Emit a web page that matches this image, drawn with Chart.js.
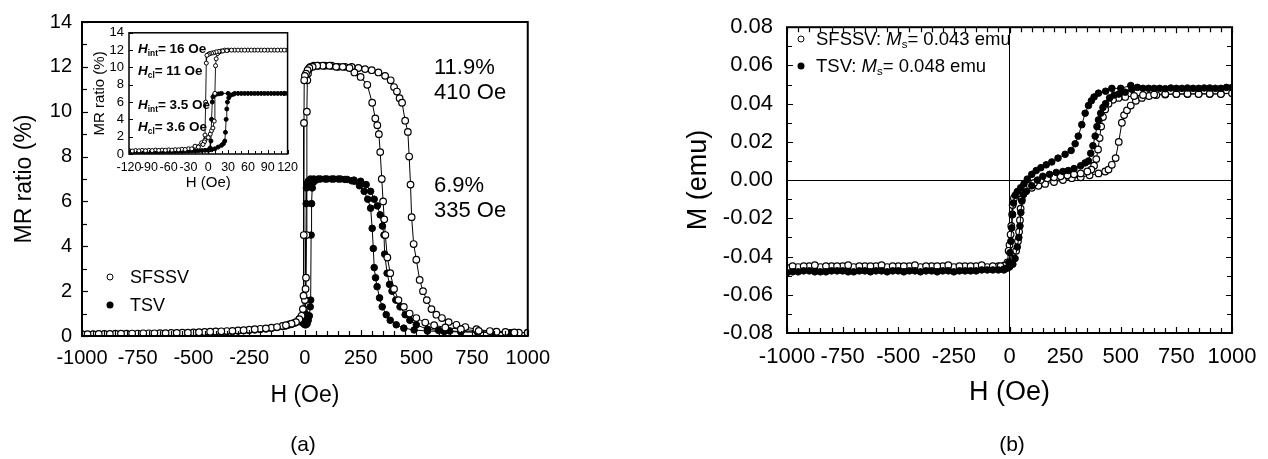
<!DOCTYPE html>
<html><head><meta charset="utf-8">
<script src="https://cdn.jsdelivr.net/npm/chart.js@4/dist/chart.umd.min.js"></script>
<style>
html,body{margin:0;padding:0;background:#fff;}
#wrap{position:relative;width:1268px;height:459px;overflow:hidden;font-family:"Liberation Sans",Arial,sans-serif;color:#000;background:#fff;}
canvas{position:absolute;}
.t{position:absolute;white-space:nowrap;line-height:1;transform:translateY(-50%);}
.c{transform:translate(-50%,-50%);}
.mk{position:absolute;width:7px;height:7px;border-radius:50%;box-sizing:border-box;transform:translate(-50%,-50%);}
.mo{border:1.3px solid #000;background:#fff;}
.mf{background:#000;}
sub{font-size:62%;vertical-align:baseline;position:relative;top:0.3em;}
.ins{font-weight:bold;font-size:13.5px;}
</style></head><body>
<div id="wrap">
<canvas id="ca" width="560" height="459" style="left:0px;top:0px"></canvas>
<canvas id="ci" width="216" height="172" style="left:88px;top:20px"></canvas>
<canvas id="cb" width="628" height="459" style="left:640px;top:0px"></canvas>

<div class="t ins" style="left:138px;top:49px"><i>H</i><sub>int</sub>= 16 Oe</div>
<div class="t ins" style="left:138px;top:71px"><i>H</i><sub>cl</sub>= 11 Oe</div>
<div class="t ins" style="left:138px;top:105px"><i>H</i><sub>int</sub>= 3.5 Oe</div>
<div class="t ins" style="left:138px;top:127px"><i>H</i><sub>cl</sub>= 3.6 Oe</div>

<div class="t" style="left:434px;top:67px;font-size:22px">11.9%</div>
<div class="t" style="left:434px;top:92px;font-size:22px">410 Oe</div>
<div class="t" style="left:434px;top:185px;font-size:22px">6.9%</div>
<div class="t" style="left:434px;top:210px;font-size:22px">335 Oe</div>

<div class="mk mo" style="left:110px;top:277px"></div>
<div class="t" style="left:130px;top:277px;font-size:18px">SFSSV</div>
<div class="mk mf" style="left:110px;top:305px"></div>
<div class="t" style="left:130px;top:305px;font-size:18px">TSV</div>

<div class="mk mo" style="left:801px;top:39px"></div>
<div class="t" style="left:816px;top:39px;font-size:18.5px">SFSSV: <i>M</i><sub>s</sub>= 0.043 emu</div>
<div class="mk mf" style="left:801px;top:66px"></div>
<div class="t" style="left:816px;top:66px;font-size:18.5px">TSV: <i>M</i><sub>s</sub>= 0.048 emu</div>

<div class="t c" style="left:303px;top:443px;font-size:21px">(a)</div>
<div class="t c" style="left:1012px;top:443px;font-size:21px">(b)</div>
</div>

<script>
// ---------- (a) main: MR ratio (%) vs H (Oe) ----------
const aH_sfUp = [-1000,-950,-900,-850,-800,-750,-700,-650,-600,-550,-500,-450,-400,-350,-300,-250,-200,-150,-100,-70,-45,-25,-12,-5,0,3,5,7,9,11,14,18,25,40,60,90,120,150,180,210,240,270,300,330,360,385,400,413,425,436,450,462,468,474,479,488,500,515,530,547,568,590,615,645,680,720,770,830,900,960,1000];
const aMR_sfUp = [0.08,0.08,0.09,0.1,0.1,0.11,0.12,0.13,0.14,0.15,0.16,0.18,0.2,0.22,0.25,0.28,0.32,0.37,0.45,0.52,0.6,0.75,0.9,1.2,1.6,2.1,2.6,4.5,10.0,11.4,11.7,11.9,12.0,12.05,12.05,12.05,12.05,12.0,12.0,12.0,11.95,11.9,11.85,11.75,11.6,11.4,11.1,10.9,10.6,10.4,9.6,9.1,8.0,6.75,5.3,4.1,3.4,2.5,2.0,1.6,1.2,0.95,0.8,0.62,0.5,0.4,0.3,0.22,0.18,0.15,0.15];
const aH_sfDn = [-975,-925,-875,-825,-775,-725,-675,-625,-575,-525,-475,-425,-375,-325,-275,-225,-175,-125,-85,-60,-40,-25,-15,-9,-6,-5,-4,-3,0,5,12,20,35,55,80,110,140,170,200,222,250,280,302,316,325,332,338,345,351,356,361,370,383,400,420,444,470,500,540,580,630,700,780,860,940,1000];
const aMR_sfDn = [0.08,0.09,0.09,0.1,0.11,0.12,0.12,0.13,0.14,0.15,0.17,0.19,0.21,0.23,0.26,0.3,0.34,0.4,0.48,0.55,0.62,0.75,0.9,1.2,1.8,4.5,9.5,11.4,11.6,11.7,11.85,11.95,12.0,12.05,12.05,12.05,12.0,12.0,11.95,11.75,11.55,11.2,10.4,9.7,9.4,9.0,8.2,7.0,6.0,5.2,4.5,3.5,2.8,2.1,1.6,1.3,1.0,0.8,0.6,0.48,0.38,0.3,0.23,0.19,0.16,0.15];
const aH_tsUp = [-1000,-950,-900,-850,-800,-750,-700,-650,-600,-550,-500,-450,-400,-350,-300,-250,-200,-150,-100,-70,-45,-25,-12,-5,0,5,10,15,20,24,26,28,30,33,38,50,70,100,130,160,190,220,250,275,295,311,325,338,348,355,358,369,380,391,408,427,450,471,500,550,600,650,700,775,850,925,1000];
const aMR_tsUp = [0.05,0.05,0.06,0.06,0.07,0.08,0.09,0.1,0.11,0.12,0.13,0.15,0.17,0.19,0.22,0.25,0.29,0.34,0.42,0.5,0.58,0.65,0.6,0.55,0.5,0.5,0.55,0.7,0.9,1.3,1.6,4.5,5.9,6.6,6.85,6.95,7.0,7.0,7.0,7.0,6.98,6.95,6.9,6.75,6.45,6.1,5.8,5.4,4.9,4.5,3.65,2.8,2.3,2.0,1.6,1.3,0.95,0.7,0.5,0.3,0.25,0.22,0.2,0.18,0.16,0.15,0.15];
const aH_tsDn = [-975,-925,-875,-825,-775,-725,-675,-625,-575,-525,-475,-425,-375,-325,-275,-225,-175,-125,-85,-60,-40,-20,-10,-2,2,4,5,6,7,10,15,25,40,60,90,120,150,180,210,222,245,266,282,295,302,307,311,317,324,335,347,365,383,410,444,490,550,625,700,775,850,925];
const aMR_tsDn = [0.05,0.05,0.06,0.07,0.07,0.08,0.09,0.1,0.11,0.12,0.14,0.16,0.18,0.2,0.23,0.27,0.31,0.38,0.45,0.52,0.6,0.68,0.7,0.75,1.0,1.6,4.5,5.9,6.6,6.8,6.9,7.0,7.0,7.0,7.0,7.0,7.0,6.98,6.92,6.9,6.7,6.45,6.1,5.7,4.8,3.9,3.05,2.6,2.2,1.7,1.3,0.95,0.7,0.5,0.35,0.27,0.22,0.2,0.18,0.17,0.16,0.15];

// ---------- (a) inset ----------
const iH_sfUp = [-120,-110,-100,-90,-80,-70,-60,-50,-40,-30,-20,-10,-5,0,3,5,7,9,10,11,12,14,17,20,25,30,40,50,60,70,80,90,100,110,120];
const iMR_sfUp = [0.4,0.4,0.42,0.42,0.45,0.45,0.48,0.5,0.55,0.6,0.9,1.3,1.6,1.9,2.3,2.7,3.0,3.8,7.0,10.2,11.0,11.6,11.8,11.9,12.0,12.0,12.0,12.0,12.0,12.0,12.0,12.0,12.0,12.0,12.0];
const iH_sfDn = [-115,-105,-95,-85,-75,-65,-55,-45,-35,-25,-15,-8,-6,-5,-4,-3,-2,0,2,5,8,12,16,22,28,35,45,55,65,75,85,95,105,115];
const iMR_sfDn = [0.35,0.37,0.38,0.4,0.42,0.43,0.45,0.48,0.52,0.6,0.8,1.1,1.4,2.2,6.0,10.5,11.4,11.5,11.6,11.65,11.7,11.8,11.85,11.9,11.95,12.0,12.0,12.0,12.0,12.0,12.0,12.0,12.0,12.0];
const iH_tsUp = [-120,-110,-100,-90,-80,-70,-60,-50,-40,-30,-20,-10,0,5,10,15,20,23,25,26,27,28,29,31,34,38,45,55,65,75,85,95,105,115,120];
const iMR_tsUp = [0.25,0.25,0.26,0.26,0.27,0.27,0.28,0.3,0.3,0.32,0.35,0.4,0.45,0.5,0.6,0.8,1.0,1.2,1.5,2.5,4.0,5.2,6.0,6.5,6.8,6.9,7.0,7.0,7.0,7.0,7.0,7.0,7.0,7.0,7.0];
const iH_tsDn = [-115,-105,-95,-85,-75,-65,-55,-45,-35,-25,-15,-5,0,2,3,4,5,6,7,9,12,16,20,30,40,50,60,70,80,90,100,110,115];
const iMR_tsDn = [0.25,0.26,0.26,0.27,0.27,0.28,0.28,0.3,0.32,0.34,0.38,0.42,0.45,0.5,0.7,1.5,4.0,6.0,6.6,6.8,6.9,6.95,7.0,7.0,7.0,7.0,7.0,7.0,7.0,7.0,7.0,7.0,7.0];

// ---------- (b): M (emu) vs H (Oe) ----------
const bH_sfUp = [-1000,-950,-900,-850,-800,-750,-700,-650,-600,-550,-500,-450,-400,-350,-300,-250,-200,-150,-100,-50,-25,-10,0,10,20,30,38,43,47,50,55,62,75,100,130,160,200,240,280,320,360,400,430,445,460,477,491,505,515,528,545,568,595,627,660,700,750,800,850,900,950,1000];
const bM_sfUp = [-0.046,-0.0455,-0.045,-0.0455,-0.045,-0.045,-0.0455,-0.045,-0.045,-0.0455,-0.045,-0.045,-0.0455,-0.045,-0.045,-0.0455,-0.045,-0.045,-0.0455,-0.045,-0.0448,-0.0445,-0.044,-0.043,-0.041,-0.037,-0.032,-0.027,-0.021,-0.015,-0.01,-0.007,-0.0055,-0.004,-0.003,-0.002,-0.001,0.0,0.001,0.0015,0.0025,0.0035,0.0045,0.0055,0.008,0.0115,0.02,0.03,0.034,0.0365,0.039,0.0415,0.043,0.044,0.0445,0.0448,0.045,0.045,0.0452,0.045,0.0452,0.0455];
const bH_sfDn = [-975,-925,-875,-825,-775,-725,-675,-625,-575,-525,-475,-425,-375,-325,-275,-225,-175,-125,-75,-40,-20,-9,-4,0,5,8,12,14,20,36,45,65,85,110,140,170,200,230,260,290,320,350,368,380,390,398,405,412,420,430,445,465,490,520,560,600,650,700,750,800,850,900,950];
const bM_sfDn = [-0.045,-0.045,-0.0445,-0.045,-0.045,-0.0445,-0.045,-0.045,-0.0445,-0.045,-0.045,-0.0445,-0.045,-0.045,-0.0445,-0.045,-0.045,-0.0445,-0.045,-0.045,-0.0448,-0.043,-0.037,-0.034,-0.0285,-0.024,-0.018,-0.013,-0.0095,-0.007,-0.006,-0.0045,-0.003,-0.0015,0.0,0.001,0.0015,0.002,0.0025,0.003,0.0035,0.0045,0.0055,0.0075,0.011,0.016,0.022,0.028,0.033,0.037,0.04,0.042,0.043,0.0435,0.044,0.0445,0.0448,0.045,0.045,0.0452,0.045,0.0452,0.045];
const bH_tsUp = [-1000,-950,-900,-850,-800,-750,-700,-650,-600,-550,-500,-450,-400,-350,-300,-250,-200,-150,-100,-50,-25,-10,0,15,25,35,42,47,51,56,63,75,100,125,150,180,210,240,264,290,320,340,355,365,375,385,393,400,410,420,432,450,470,491,520,550,600,650,700,750,800,850,900,950,1000];
const bM_tsUp = [-0.0485,-0.048,-0.0475,-0.048,-0.0475,-0.0475,-0.048,-0.0475,-0.0475,-0.048,-0.0475,-0.0475,-0.048,-0.0475,-0.0475,-0.048,-0.0475,-0.0475,-0.047,-0.047,-0.0465,-0.046,-0.0455,-0.044,-0.041,-0.035,-0.03,-0.024,-0.017,-0.011,-0.0075,-0.006,-0.003,0.0,0.002,0.003,0.004,0.0045,0.005,0.006,0.0075,0.009,0.01,0.014,0.018,0.023,0.028,0.0315,0.035,0.038,0.04,0.043,0.0445,0.045,0.046,0.0475,0.048,0.048,0.0478,0.048,0.0482,0.048,0.0482,0.048,0.0485];
const bH_tsDn = [-975,-925,-875,-825,-775,-725,-675,-625,-575,-525,-475,-425,-375,-325,-275,-225,-175,-125,-75,-25,-10,-3,2,6,10,14,18,25,35,50,65,80,100,120,141,165,190,218,250,277,295,309,325,340,355,368,380,400,432,460,500,545,575,625,675,725,775,825,875,925,975];
const bM_tsDn = [-0.048,-0.0475,-0.048,-0.048,-0.0475,-0.048,-0.0475,-0.048,-0.0475,-0.0475,-0.048,-0.0475,-0.0475,-0.048,-0.0475,-0.0475,-0.0475,-0.047,-0.047,-0.047,-0.046,-0.043,-0.038,-0.032,-0.025,-0.018,-0.012,-0.008,-0.006,-0.004,-0.002,0.0005,0.003,0.005,0.0065,0.008,0.0095,0.0115,0.0135,0.0155,0.019,0.023,0.029,0.035,0.039,0.0415,0.0435,0.0455,0.0465,0.048,0.048,0.0495,0.0485,0.048,0.048,0.0482,0.048,0.048,0.0482,0.048,0.0485];

// ---------- helpers ----------
Chart.defaults.font.family = '"Liberation Sans", Arial, sans-serif';
Chart.defaults.color = '#000';

function loop(hUp, vUp, hDn, vDn) {
  const pts = hUp.map((h, i) => ({x: h, y: vUp[i]}));
  for (let i = hDn.length - 1; i >= 0; i--) pts.push({x: hDn[i], y: vDn[i]});
  return pts;
}
function ds(label, data, open, r, bw, lw, order) {
  return {label, data, showLine: true, borderColor: '#000', borderWidth: lw,
    pointRadius: r, pointBorderWidth: bw, pointBorderColor: '#000',
    pointBackgroundColor: open ? '#fff' : '#000', backgroundColor: open ? '#fff' : '#000',
    tension: 0, order};
}

const frameTicks = {
  id: 'frameTicks',
  afterDatasetsDraw(chart, args, o) {
    const {ctx, chartArea: a, scales} = chart;
    ctx.save();
    ctx.strokeStyle = '#000';
    ctx.lineWidth = o.tw;
    function draw(scale, spec) {
      const n = Math.round((scale.max - scale.min) / spec.minor);
      for (let i = 0; i <= n; i++) {
        const v = scale.min + i * spec.minor;
        const q = v / spec.major;
        const major = Math.abs(q - Math.round(q)) < 1e-6;
        const L = major ? o.len : o.mlen;
        const p = Math.round(scale.getPixelForValue(v)) + 0.5;
        ctx.beginPath();
        spec.sides.forEach(s => {
          if (s === 'bottom') { ctx.moveTo(p, a.bottom); ctx.lineTo(p, a.bottom - L); }
          if (s === 'top') { ctx.moveTo(p, a.top); ctx.lineTo(p, a.top + L); }
          if (s === 'left') { ctx.moveTo(a.left, p); ctx.lineTo(a.left + L, p); }
          if (s === 'right') { ctx.moveTo(a.right, p); ctx.lineTo(a.right - L, p); }
        });
        ctx.stroke();
      }
    }
    draw(scales.x, o.x);
    draw(scales.y, o.y);
    ctx.lineWidth = o.lw;
    ctx.strokeRect(a.left, a.top, a.right - a.left, a.bottom - a.top);
    ctx.restore();
  }
};

const hidden = {display: false, drawTicks: false};

// ---------- chart (a) ----------
new Chart(document.getElementById('ca'), {
  type: 'scatter',
  data: {datasets: [
    ds('SFSSV', loop(aH_sfUp, aMR_sfUp, aH_sfDn, aMR_sfDn), true, 3.3, 1.2, 1, 0),
    ds('TSV', loop(aH_tsUp, aMR_tsUp, aH_tsDn, aMR_tsDn), false, 3.3, 1, 1, 1)
  ]},
  options: {
    responsive: false, animation: false, events: [], devicePixelRatio: 1,
    layout: {padding: {left: 0, top: 19, right: 28, bottom: 43}},
    plugins: {legend: {display: false}, tooltip: {enabled: false},
      frameTicks: {lw: 2, tw: 1.2, len: 6, mlen: 5,
        x: {minor: 50, major: 250, sides: ['bottom']},
        y: {minor: 1, major: 2, sides: ['left']}}},
    scales: {
      x: {type: 'linear', min: -1000, max: 1000,
        ticks: {stepSize: 250, padding: 10, font: {size: 20}, color: '#000', maxRotation: 0, autoSkip: false, callback: v => String(v)},
        grid: hidden, border: {display: false},
        title: {display: true, text: 'H (Oe)', color: '#000', font: {size: 23}, padding: {top: 0, bottom: 7}},
        afterFit(s) { s.height = 80; }},
      y: {type: 'linear', min: 0, max: 14,
        ticks: {stepSize: 2, padding: 10, font: {size: 20}, color: '#000', autoSkip: false, callback: v => String(v)},
        grid: hidden, border: {display: false},
        title: {display: true, text: 'MR ratio (%)', color: '#000', font: {size: 23}, padding: {top: 11, bottom: 0}},
        afterFit(s) { s.width = 82; }}
    }
  },
  plugins: [frameTicks]
});

// ---------- inset ----------
new Chart(document.getElementById('ci'), {
  type: 'scatter',
  data: {datasets: [
    ds('SFSSV', loop(iH_sfUp, iMR_sfUp, iH_sfDn, iMR_sfDn), true, 2, 1, 0.9, 0),
    ds('TSV', loop(iH_tsUp, iMR_tsUp, iH_tsDn, iMR_tsDn), false, 2, 1, 0.9, 1)
  ]},
  options: {
    responsive: false, animation: false, events: [], devicePixelRatio: 1,
    layout: {padding: {left: 0, top: 9, right: 11, bottom: 0}},
    plugins: {legend: {display: false}, tooltip: {enabled: false},
      frameTicks: {lw: 1.5, tw: 1, len: 4, mlen: 3,
        x: {minor: 10, major: 30, sides: ['bottom']},
        y: {minor: 2, major: 2, sides: ['left']}}},
    scales: {
      x: {type: 'linear', min: -120, max: 120,
        ticks: {stepSize: 30, padding: 6, font: {size: 12.5}, color: '#000', maxRotation: 0, autoSkip: false, callback: v => String(v)},
        grid: hidden, border: {display: false},
        title: {display: true, text: 'H (Oe)', color: '#000', font: {size: 15}, padding: {top: 0, bottom: 0}},
        afterFit(s) { s.height = 38; }},
      y: {type: 'linear', min: 0, max: 14,
        ticks: {stepSize: 2, padding: 5, font: {size: 13}, color: '#000', autoSkip: false, callback: v => String(v)},
        grid: hidden, border: {display: false},
        title: {display: true, text: 'MR ratio (%)', color: '#000', font: {size: 15}, padding: {top: 3, bottom: 0}},
        afterFit(s) { s.width = 41; }}
    }
  },
  plugins: [frameTicks]
});

// ---------- chart (b) ----------
const zeroLine = {display: true, drawTicks: false, drawOnChartArea: true, lineWidth: 1,
  color: c => (c.tick && Math.abs(c.tick.value) < 1e-9) ? '#000' : 'rgba(0,0,0,0)'};
new Chart(document.getElementById('cb'), {
  type: 'scatter',
  data: {datasets: [
    ds('SFSSV', loop(bH_sfUp, bM_sfUp, bH_sfDn, bM_sfDn), true, 3.3, 1.2, 1, 1),
    ds('TSV', loop(bH_tsUp, bM_tsUp, bH_tsDn, bM_tsDn), false, 3.3, 1, 1, 0)
  ]},
  options: {
    responsive: false, animation: false, events: [], devicePixelRatio: 1,
    layout: {padding: {left: 0, top: 13, right: 36, bottom: 46}},
    plugins: {legend: {display: false}, tooltip: {enabled: false},
      frameTicks: {lw: 2, tw: 1.2, len: 6, mlen: 5,
        x: {minor: 50, major: 250, sides: ['bottom', 'top']},
        y: {minor: 0.01, major: 0.02, sides: ['left', 'right']}}},
    scales: {
      x: {type: 'linear', min: -1000, max: 1000,
        ticks: {stepSize: 250, padding: 11, font: {size: 22}, color: '#000', maxRotation: 0, autoSkip: false, callback: v => String(v)},
        grid: zeroLine, border: {display: false},
        title: {display: true, text: 'H (Oe)', color: '#000', font: {size: 27}, padding: {top: 0, bottom: 4}},
        afterFit(s) { s.height = 80; }},
      y: {type: 'linear', min: -0.08, max: 0.08,
        ticks: {stepSize: 0.02, padding: 14, font: {size: 22}, color: '#000', autoSkip: false, callback: v => v.toFixed(2)},
        grid: zeroLine, border: {display: false},
        title: {display: true, text: 'M (emu)', color: '#000', font: {size: 27}, padding: {top: 42, bottom: 0}},
        afterFit(s) { s.width = 147; }}
    }
  },
  plugins: [frameTicks]
});
</script>
</body></html>
